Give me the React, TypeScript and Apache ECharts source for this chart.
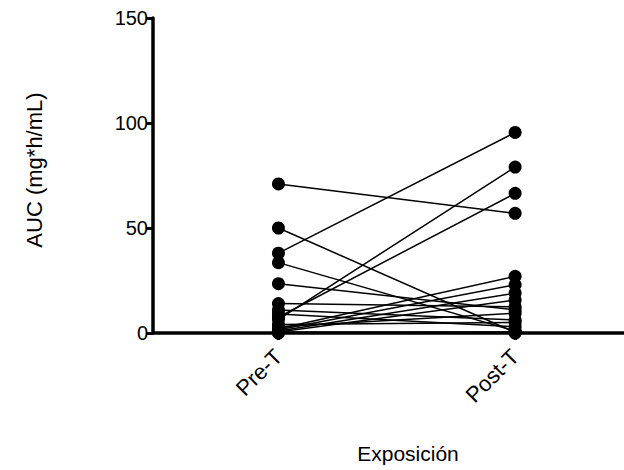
import React, { useEffect, useRef } from "react";
import * as echarts from "echarts";

const groups = ["Pre-T", "Post-T"];
const preValues = [71, 50, 38, 33.5, 23.5, 14, 11, 9, 6.5, 7.5, 2, 1.5, 1, 0.5, 3, 0.3, 0.2, 0, 4];
const postValues = [57, 0.3, 95.5, 1, 11, 12.5, 6.2, 3, 79, 66.5, 27, 23, 19, 15.7, 9.4, 0.5, 0, 0.2, 5];
const yTicks = [0, 50, 100, 150];

export default function App() {
  const ref = useRef<HTMLDivElement>(null);
  useEffect(() => {
    if (!ref.current) return;
    const chart = echarts.init(ref.current, null, { renderer: "svg" });
    const font = "Liberation Sans, Arial, sans-serif";
    const series = preValues.map((pre, i) => ({
      type: "line",
      name: "S" + (i + 1),
      data: [
        [1, pre],
        [2, postValues[i]],
      ],
      symbol: "circle",
      symbolSize: 13,
      showSymbol: true,
      lineStyle: { color: "#000", width: 1.5 },
      itemStyle: { color: "#000" },
      z: 5,
      silent: true,
    }));
    chart.setOption({
      animation: false,
      backgroundColor: "#fff",
      grid: { left: 153, right: 0, top: 18, bottom: 137, containLabel: false },
      xAxis: {
        type: "value",
        min: 0.47,
        max: 2.46,
        axisLine: { show: true, onZero: false, lineStyle: { color: "#000", width: 3.5 } },
        axisTick: { show: true, customValues: [1, 2], length: 7, lineStyle: { color: "#000", width: 3 } },
        axisLabel: {
          show: true,
          customValues: [1, 2],
          formatter: (v: number) => groups[Math.round(v) - 1] ?? "",
          rotate: 45,
          margin: 20,
          color: "#000",
          fontSize: 22,
          fontFamily: font,
        },
        splitLine: { show: false },
      },
      yAxis: {
        type: "value",
        min: 0,
        max: 150,
        interval: 50,
        axisLine: { show: true, lineStyle: { color: "#000", width: 3.5 } },
        axisTick: { show: true, length: 7, lineStyle: { color: "#000", width: 3 } },
        axisLabel: {
          color: "#000",
          fontSize: 20,
          fontFamily: font,
          margin: 5,
          formatter: (v: number) => (yTicks.includes(v) ? String(v) : ""),
        },
        splitLine: { show: false },
      },
      graphic: [
        {
          type: "text",
          x: 408,
          y: 453,
          style: {
            text: "Exposición",
            fill: "#000",
            fontSize: 21,
            fontFamily: font,
            align: "center",
            verticalAlign: "middle",
          },
        },
        {
          type: "text",
          x: 34,
          y: 170,
          rotation: Math.PI / 2,
          style: {
            text: "AUC (mg*h/mL)",
            fill: "#000",
            fontSize: 22,
            fontFamily: font,
            align: "center",
            verticalAlign: "middle",
          },
        },
      ],
      series,
    });
    return () => chart.dispose();
  }, []);
  return (
    <div
      ref={ref}
      style={{ position: "fixed", left: 0, top: 0, width: 624, height: 470 }}
    />
  );
}
